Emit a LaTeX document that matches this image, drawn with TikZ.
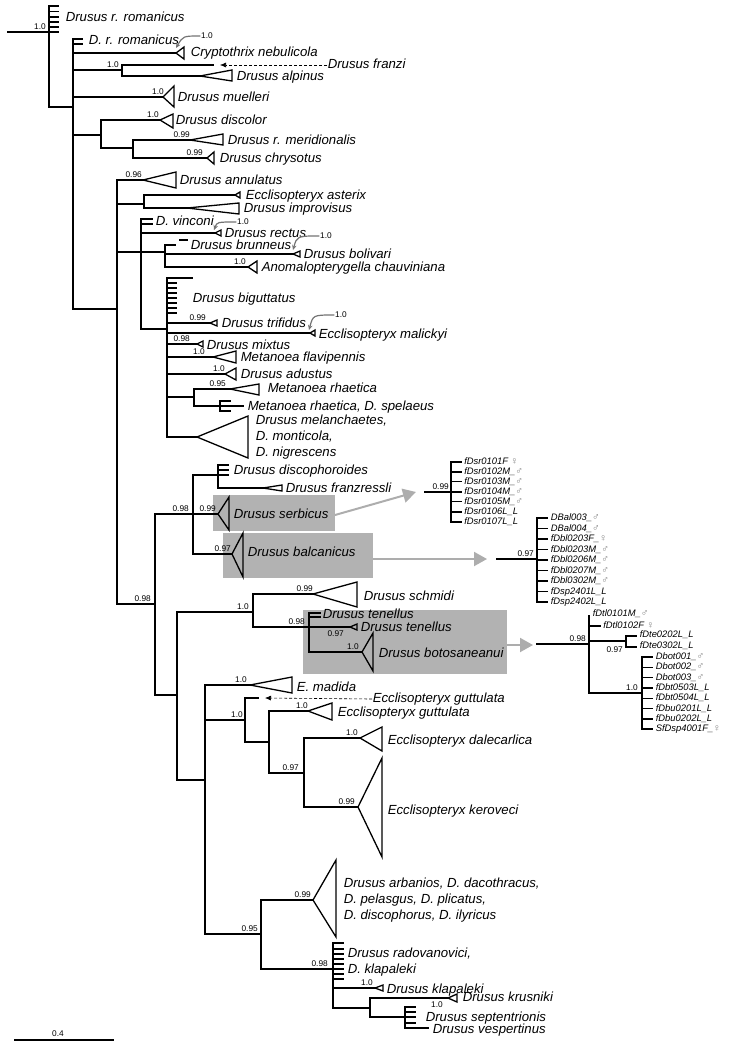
\documentclass[tikz,border=0pt]{standalone}
\usepackage{fontspec}
\setmainfont{Liberation Sans}
\usetikzlibrary{arrows.meta}
\newcommand{\msym}{\textcolor{black!50}{\upshape\fontsize{10.3}{10}\selectfont ♂}}
\newcommand{\fsym}{\textcolor{black!50}{\upshape\fontsize{10.3}{10}\selectfont ♀}}
\begin{document}
\begin{tikzpicture}[x=1pt,y=-1pt,line width=1.5pt,line cap=rect,
  sp/.style={font=\itshape\fontsize{13.2}{16}\selectfont,anchor=west,inner sep=0pt,text height=9.5pt,text depth=2.2pt},
  leaf/.style={font=\itshape\fontsize{9.4}{10}\selectfont,anchor=west,inner sep=0pt,text height=7pt,text depth=2pt},
  pp/.style={font=\fontsize{8.3}{9}\selectfont,anchor=south east,inner sep=0.5pt},
  ppb/.style={pp,anchor=north east},
  tri/.style={line width=1.3pt,line cap=butt},
  hibox/.style={fill=black!30},
  pointer/.style={draw=black!32,line width=2pt,line cap=butt,-{Triangle[length=13pt,width=14pt]}},
  curvearrow/.style={draw=black!55,line width=1.2pt,line cap=round,-{Stealth[length=5pt,width=4.5pt]}},
  dashback/.style={line width=0.6pt,line cap=butt,dash pattern=on 3pt off 2pt,-{Latex[length=6pt,width=5pt]}}]
\useasboundingbox (0,0) rectangle (729,1050);
% grey boxes
\fill[hibox] (213,495) rectangle (335,531);
\fill[hibox] (223,533) rectangle (373,578);
\fill[hibox] (303,610) rectangle (507,674);
%
% root
\draw (8,32) -- (49,32);
\node[pp] (s0) at (47,31) {1.0};
\draw (49,6) -- (49,107) -- (73,107);
\foreach \y in {6,11.5,17,22,27,32} \draw (49,\y) -- (58,\y);
\node[sp] (rrom) at (65,18) {Drusus r. romanicus};
% first clade
\draw (73,39) -- (73,309) -- (117,309);
\draw (73,39) -- (82,39);
\draw (73,44) -- (82,44);
\node[sp] (drrom) at (88,41) {D. r. romanicus};
\draw (73,53) -- (176,53);
\draw[tri] (176,53) -- (184,47) -- (184,59) -- cycle;
\node[sp] (cryp) at (190,53) {Cryptothrix nebulicola};
\node[pp,anchor=center] (s1) at (207,36) {1.0};
\draw[curvearrow] (s1.west) .. controls (183,36) .. (176,48);
\draw (73,70) -- (122,70);
\draw (213,65) -- (122,65) -- (122,76) -- (200,76);
\node[pp] (s2) at (120,69) {1.0};
\draw[tri] (200,76) -- (232,70) -- (232,81) -- cycle;
\node[sp] (alp) at (236,77) {Drusus alpinus};
\node[sp] (fra) at (327,65) {Drusus franzi};
\draw[dashback] (fra.west) -- (220,65);
\draw (73,97) -- (163,97);
\draw[tri] (163,97) -- (174,86) -- (174,107) -- cycle;
\node[pp] (s3) at (165,96) {1.0};
\node[sp] (mue) at (177,98) {Drusus muelleri};
\draw (73,135) -- (101,135);
\draw (160,120) -- (101,120) -- (101,148) -- (133,148);
\draw[tri] (160,120) -- (173,114) -- (173,128) -- cycle;
\node[pp] (s4) at (160,119) {1.0};
\node[sp] (disc) at (175,121) {Drusus discolor};
\draw (190,140) -- (133,140) -- (133,158) -- (207,158);
\draw[tri] (190,140) -- (223,134) -- (223,145) -- cycle;
\node[pp] (s5) at (191,139) {0.99};
\node[sp] (meri) at (227,141) {Drusus r. meridionalis};
\draw[tri] (207,158) -- (214,152) -- (214,164) -- cycle;
\node[pp] (s6) at (204,157) {0.99};
\node[sp] (chry) at (219,159) {Drusus chrysotus};
%
% second clade
\draw (117,180) -- (117,604) -- (155,604);
\node[pp] (s7) at (152,603) {0.98};
\draw (117,180) -- (143,180);
\draw[tri] (143,180) -- (176,172) -- (176,188) -- cycle;
\node[pp] (s8) at (143,179) {0.96};
\node[sp] (annu) at (179,181) {Drusus annulatus};
\draw (117,204) -- (144,204);
\draw (235,195) -- (144,195) -- (144,208) -- (187,208);
\draw[tri] (235,195) -- (240,192) -- (240,198) -- cycle;
\node[sp] (aste) at (245,196) {Ecclisopteryx asterix};
\draw[tri] (187,208) -- (239,203) -- (239,214) -- cycle;
\node[sp] (impr) at (243,209) {Drusus improvisus};
\draw (117,252) -- (165,252);
\draw (141,219) -- (141,329) -- (167,329);
\draw (141,219) -- (152,219);
\draw (141,224) -- (152,224);
\node[sp] (vinc) at (155,222) {D. vinconi};
\draw (141,233) -- (215,233);
\draw[tri] (215,233) -- (221,230) -- (221,236) -- cycle;
\node[sp] (rect) at (224,234) {Drusus rectus};
\node[pp,anchor=center] (s9) at (243,222) {1.0};
\draw[curvearrow] (s9.west) .. controls (217,222) .. (214,230);
\draw (175,245) -- (165,245) -- (165,267) -- (248,267);
\draw (180,240) -- (187,240);
\node[sp] (brun) at (190,246) {Drusus brunneus};
\draw (165,254) -- (293,254);
\draw[tri] (293,254) -- (300,251) -- (300,257) -- cycle;
\node[sp] (boli) at (303,255) {Drusus bolivari};
\node[pp,anchor=center] (s10) at (326,236) {1.0};
\draw[curvearrow] (s10.west) .. controls (297,236) .. (293,250);
\draw[tri] (248,267) -- (257,261) -- (257,273) -- cycle;
\node[pp] (s11) at (247,266) {1.0};
\node[sp] (anom) at (261,268) {Anomalopterygella chauviniana};
%
\draw (192,278) -- (167,278) -- (167,437) -- (197,437);
\foreach \y in {283,288,...,313} \draw (167,\y) -- (176,\y);
\node[sp] (bigu) at (192,299) {Drusus biguttatus};
\draw (167,323) -- (210,323);
\draw[tri] (210,323) -- (217,320) -- (217,326) -- cycle;
\node[pp] (s12) at (207,322) {0.99};
\node[sp] (trif) at (221,324) {Drusus trifidus};
\draw (167,333) -- (310,333);
\draw[tri] (310,333) -- (315,330) -- (315,336) -- cycle;
\node[sp] (mali) at (318,335) {Ecclisopteryx malickyi};
\node[pp,anchor=center] (s13) at (341,315) {1.0};
\draw[curvearrow] (s13.west) .. controls (313,315) .. (309,330);
\draw (167,344) -- (197,344);
\draw[tri] (197,344) -- (203,341) -- (203,347) -- cycle;
\node[pp] (s14) at (191,343) {0.98};
\node[sp] (mixt) at (206,346) {Drusus mixtus};
\draw (167,357) -- (213,357);
\draw[tri] (213,357) -- (236,351) -- (236,363) -- cycle;
\node[pp] (s15) at (206,356) {1.0};
\node[sp] (flav) at (240,358) {Metanoea flavipennis};
\draw (167,374) -- (225,374);
\draw[tri] (225,374) -- (236,368) -- (236,380) -- cycle;
\node[pp] (s16) at (226,373) {1.0};
\node[sp] (adus) at (240,375) {Drusus adustus};
\draw (167,397) -- (194,397);
\draw (230,389) -- (194,389) -- (194,406) -- (243,406);
\draw[tri] (230,389) -- (259,384) -- (259,395) -- cycle;
\node[pp] (s17) at (227,388) {0.95};
\node[sp] (rhae) at (267,389) {Metanoea rhaetica};
\draw (230,401) -- (220,401) -- (220,411) -- (230,411);
\node[sp] (spel) at (247,407) {Metanoea rhaetica, D. spelaeus};
\draw[tri] (197,437) -- (248,416) -- (248,458) -- cycle;
\node[sp] (mel1) at (255,421) {Drusus melanchaetes,};
\node[sp] (mel2) at (255,437) {D. monticola,};
\node[sp] (mel3) at (255,453) {D. nigrescens};
%
% third clade
\draw (193,514) -- (155,514) -- (155,695) -- (177,695);
\node[pp] (s18) at (190,513) {0.98};
\draw (228,475) -- (193,475) -- (193,554) -- (232,554);
\draw (193,514) -- (218,514);
\draw (228,465) -- (218,465) -- (218,488) -- (263,488);
\draw (218,470) -- (228,470);
\node[sp] (dcph) at (233,471) {Drusus discophoroides};
\draw[tri] (263,488) -- (282,485) -- (282,491) -- cycle;
\node[sp] (frzr) at (285,489) {Drusus franzressli};
\draw[tri] (218,514) -- (229,497) -- (229,530) -- cycle;
\node[pp] (s19) at (217,513) {0.99};
\node[sp] (serb) at (233,515) {Drusus serbicus};
\draw[tri] (232,554) -- (243,533) -- (243,577) -- cycle;
\node[pp] (s20) at (232,553) {0.97};
\node[sp] (balc) at (247,553) {Drusus balcanicus};
%
\draw (253,612) -- (177,612) -- (177,780) -- (205,780);
\node[pp] (s21) at (250,611) {1.0};
\draw (313,594) -- (253,594) -- (253,627) -- (350,627);
\draw[tri] (313,594) -- (357,582) -- (357,607) -- cycle;
\node[pp] (s22) at (314,593) {0.99};
\node[sp] (schm) at (363,597) {Drusus schmidi};
\node[pp] (s23) at (306,626) {0.98};
\draw (320,613) -- (309,613) -- (309,652) -- (362,652);
\draw (309,617) -- (320,617);
\node[sp] (ten1) at (322,615) {Drusus tenellus};
\draw[tri] (350,627) -- (357,624) -- (357,630) -- cycle;
\node[ppb] (s24) at (345,629) {0.97};
\node[sp] (ten2) at (360,628) {Drusus tenellus};
\draw[tri] (362,652) -- (373,633) -- (373,671) -- cycle;
\node[pp] (s25) at (360,651) {1.0};
\node[sp] (boto) at (378,654) {Drusus botosaneanui};
%
\draw (205,685) -- (205,934) -- (261,934);
\node[pp] (s26) at (259,933) {0.95};
\draw (205,685) -- (250,685);
\draw[tri] (250,685) -- (292,677) -- (292,693) -- cycle;
\node[pp] (s27) at (248,684) {1.0};
\node[sp] (madi) at (296,688) {E. madida};
\draw (205,720) -- (245,720);
\node[pp] (s28) at (244,719) {1.0};
\draw (258,698) -- (245,698) -- (245,742) -- (269,742);
\node[sp] (gut1) at (372,699) {Ecclisopteryx guttulata};
\draw[dashback] (gut1.west) -- (265,698);
\draw (308,711) -- (269,711) -- (269,773) -- (304,773);
\draw[tri] (308,711) -- (332,703) -- (332,720) -- cycle;
\node[pp] (s29) at (309,710) {1.0};
\node[sp] (gut2) at (337,713) {Ecclisopteryx guttulata};
\node[pp] (s30) at (300,772) {0.97};
\draw (360,738) -- (304,738) -- (304,807) -- (358,807);
\draw[tri] (360,738) -- (382,727) -- (382,751) -- cycle;
\node[pp] (s31) at (359,737) {1.0};
\node[sp] (dale) at (387,741) {Ecclisopteryx dalecarlica};
\draw[tri] (358,807) -- (382,758) -- (382,857) -- cycle;
\node[pp] (s32) at (356,806) {0.99};
\node[sp] (kero) at (387,811) {Ecclisopteryx keroveci};
%
\draw (313,900) -- (261,900) -- (261,969) -- (333,969);
\draw[tri] (313,900) -- (336,860) -- (336,937) -- cycle;
\node[pp] (s33) at (312,899) {0.99};
\node[sp] (arb1) at (343,884) {Drusus arbanios, D. dacothracus,};
\node[sp] (arb2) at (343,900) {D. pelasgus, D. plicatus,};
\node[sp] (arb3) at (343,916) {D. discophorus, D. ilyricus};
\node[pp] (s34) at (329,968) {0.98};
\draw (343,943) -- (333,943) -- (333,1008) -- (370,1008);
\foreach \y in {949,954,959,964,969,974,979} \draw (333,\y) -- (343,\y);
\node[sp] (rado) at (347,954) {Drusus radovanovici,};
\node[sp] (kla1) at (347,970) {D. klapaleki};
\draw (333,988) -- (375,988);
\draw[tri] (375,988) -- (383,985) -- (383,991) -- cycle;
\node[pp] (s35) at (374,987) {1.0};
\node[sp] (kla2) at (386,990) {Drusus klapaleki};
\draw (448,998) -- (370,998) -- (370,1017) -- (405,1017);
\draw[tri] (448,998) -- (457,994) -- (457,1002) -- cycle;
\node[ppb] (s36) at (444,1000) {1.0};
\node[sp] (krus) at (462,998) {Drusus krusniki};
\draw (415,1007) -- (405,1007) -- (405,1028) -- (428,1028);
\foreach \y in {1012,1017,1023} \draw (405,\y) -- (415,\y);
\node[sp] (sept) at (425,1018) {Drusus septentrionis};
\node[sp] (vesp) at (432,1030) {Drusus vespertinus};
%
% pointers to the specimen trees
\coordinate (pa1) at (335,515);
\coordinate (pb1) at (416,492);
\coordinate (pa2) at (373,559);
\coordinate (pb2) at (487,559);
\coordinate (pa3) at (507,645);
\coordinate (pb3) at (533,645);
\draw[pointer] (pa1) -- (pb1);
\draw[pointer] (pa2) -- (pb2);
\draw[pointer] (pa3) -- (pb3);
%
% specimens: serbicus
\draw (425,492) -- (451,492);
\node[pp] (d1) at (450,491) {0.99};
\draw (451,462) -- (451,522);
\foreach \y/\t [count=\i] in {462/{fDsr0101F \fsym},472/{fDsr0102M\_\msym},481.5/{fDsr0103M\_\msym},
  492/{fDsr0104M\_\msym},501.5/{fDsr0105M\_\msym},512/{fDsr0106L\_L},522/{fDsr0107L\_L}}
  \draw (451,\y) -- (461,\y) node[leaf,xshift=2.5pt] (sr\i) {\t};
% specimens: balcanicus
\draw (497,559) -- (537,559);
\node[pp] (d2) at (535,558) {0.97};
\draw (537,518) -- (537,602);
\foreach \y/\t [count=\i] in {518/{DBal003\_\msym},528.5/{DBal004\_\msym},539/{fDbl0203F\_\fsym},
  549.5/{fDbl0203M\_\msym},560/{fDbl0206M\_\msym},570.5/{fDbl0207M\_\msym},581/{fDbl0302M\_\msym},
  591.5/{fDsp2401L\_L},602/{fDsp2402L\_L}}
  \draw (537,\y) -- (547,\y) node[leaf,xshift=3pt] (bl\i) {\t};
% specimens: tenellus and botosaneanui
\draw (537,644) -- (589,644);
\node[pp] (d3) at (587,643) {0.98};
\draw (589,616) -- (589,693) -- (642,693);
\node[leaf] (tl1) at (592,614) {fDtl0101M\_\msym};
\draw (589,626) -- (600,626) node[leaf,xshift=2.5pt] (tl2) {fDtl0102F \fsym};
\draw (589,641) -- (626,641);
\draw (636,636) -- (626,636) -- (626,647) -- (636,647);
\node[leaf] (te1) at (639,635) {fDte0202L\_L};
\node[leaf] (te2) at (639,646) {fDte0302L\_L};
\node[ppb] (d4) at (624,645) {0.97};
\node[pp] (d5) at (639,692) {1.0};
\draw (642,657) -- (642,729);
\foreach \y/\t [count=\i] in {657/{Dbot001\_\msym},667.3/{Dbot002\_\msym},677.6/{Dbot003\_\msym},
  688/{fDbt0503L\_L},698.3/{fDbt0504L\_L},708.6/{fDbu0201L\_L},719/{fDbu0202L\_L},729/{SfDsp4001F\_\fsym}}
  \draw (642,\y) -- (652,\y) node[leaf,xshift=3pt] (bt\i) {\t};
%
% scale
\draw (15,1040) -- (113,1040);
\node[pp,anchor=south] (scl) at (58,1038) {0.4};
\end{tikzpicture}
\end{document}
